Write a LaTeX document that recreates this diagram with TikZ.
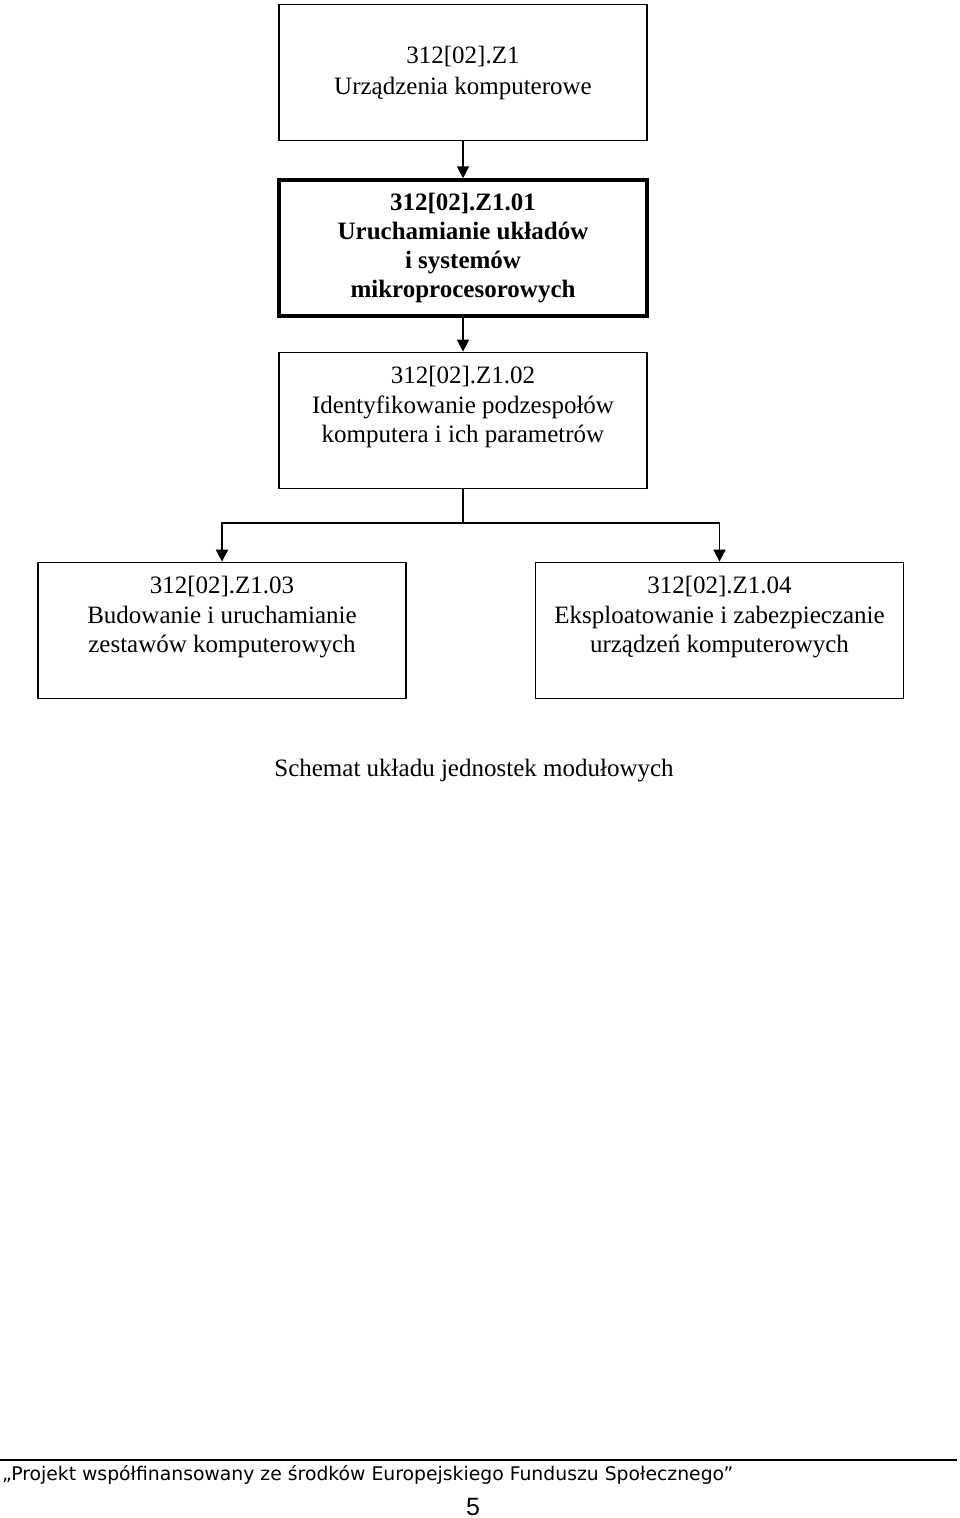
\documentclass[tikz,border=0pt]{standalone}
\usepackage{fontspec}
\setmainfont{Liberation Serif}
\newfontfamily\footfont{DejaVu Sans}
\newfontfamily\numfont{Liberation Sans}
\usetikzlibrary{arrows.meta}
\begin{document}
\begin{tikzpicture}[x=1pt,y=-1pt,
  box/.style={draw,line width=1.8pt,minimum width=368pt,minimum height=136pt,inner sep=0pt,align=center,font=\fontsize{25}{29.5}\selectfont},
  thickbox/.style={box,line width=3.5pt,font=\fontsize{25}{29}\selectfont\bfseries},
  arr/.style={line width=1.8pt,-{Triangle[width=12pt,length=12pt]}},
  lnk/.style={line width=1.8pt}]
\useasboundingbox (0,0) rectangle (960,1518);
\node[box,font=\fontsize{25}{31}\selectfont] (b1) at (463,72.5) {312[02].Z1\\Urządzenia komputerowe};
\node[thickbox] (b2) at (463,248) {312[02].Z1.01\\Uruchamianie układów\\i systemów\\mikroprocesorowych};
\node[box] (b3) at (463,420.5) {312[02].Z1.02\\Identyfikowanie podzespołów\\komputera i ich parametrów\\[-6pt]\strut};
\node[box] (b4) at (222,630.5) {312[02].Z1.03\\Budowanie i uruchamianie\\zestawów komputerowych\\[-6pt]\strut};
\node[box] (b5) at (719.5,630.5) {312[02].Z1.04\\Eksploatowanie i zabezpieczanie\\urządzeń komputerowych\\[-6pt]\strut};
\coordinate (split) at (463,523);
\draw[arr] (b1.south) -- (b2.north);
\draw[arr] (b2.south) -- (b3.north);
\draw[lnk] (b3.south) -- (split);
\draw[arr] (split) -| (b4.north);
\draw[arr] (split) -| (b5.north);
\node[font=\fontsize{25}{30}\selectfont] (cap) at (474,771) {Schemat układu jednostek modułowych};
\draw[line width=2pt] (0,1460) -- (957,1460);
\node[anchor=west,inner sep=0pt,font=\footfont\fontsize{18.8}{22}\selectfont] (foot) at (2,1475) {„Projekt współfinansowany ze środków Europejskiego Funduszu Społecznego”};
\node[font=\numfont\fontsize{25}{30}\selectfont] (pg) at (473,1507) {5};
\end{tikzpicture}
\end{document}
